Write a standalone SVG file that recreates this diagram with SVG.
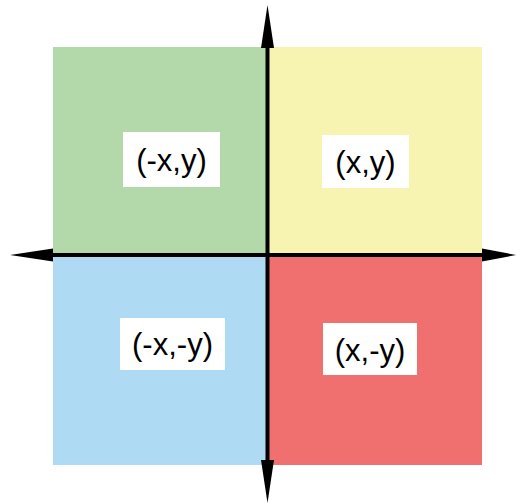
<svg xmlns="http://www.w3.org/2000/svg" width="516" height="503" viewBox="0 0 516 503">
<style>
.lbl{fill:#fff}
.t{font-family:"Liberation Sans",Arial,sans-serif;font-size:31px;fill:#000;text-anchor:middle}
.ax{stroke:#000;stroke-width:4;fill:none}
.ah{fill:#000}
</style>
<rect width="516" height="503" fill="#fff"/>
<g id="q2"><rect x="53" y="47" width="214" height="208" fill="#b3d9aa"/><rect class="lbl" x="123" y="132" width="97" height="55"/><text class="t" x="171.5" y="171">(-x,y)</text></g>
<g id="q1"><rect x="267" y="47" width="215" height="208" fill="#f7f4b1"/><rect class="lbl" x="322" y="135" width="87" height="53"/><text class="t" x="365.5" y="173">(x,y)</text></g>
<g id="q3"><rect x="53" y="255" width="214" height="210" fill="#afdaf3"/><rect class="lbl" x="120" y="318" width="105" height="52"/><text class="t" x="172.5" y="355">(-x,-y)</text></g>
<g id="q4"><rect x="267" y="255" width="215" height="210" fill="#f07070"/><rect class="lbl" x="323" y="323" width="94" height="52"/><text class="t" x="370" y="361">(x,-y)</text></g>
<g id="axes">
<line class="ax" x1="267.5" y1="40" x2="267.5" y2="470"/>
<line class="ax" x1="45" y1="255" x2="485" y2="255"/>
<polygon class="ah" points="267.5,5 261,48 274,48"/>
<polygon class="ah" points="267.5,503 261,460 274,460"/>
<polygon class="ah" points="10,255 53,248.5 53,261.5"/>
<polygon class="ah" points="516,255 482,248.5 482,261.5"/>
</g>
</svg>
